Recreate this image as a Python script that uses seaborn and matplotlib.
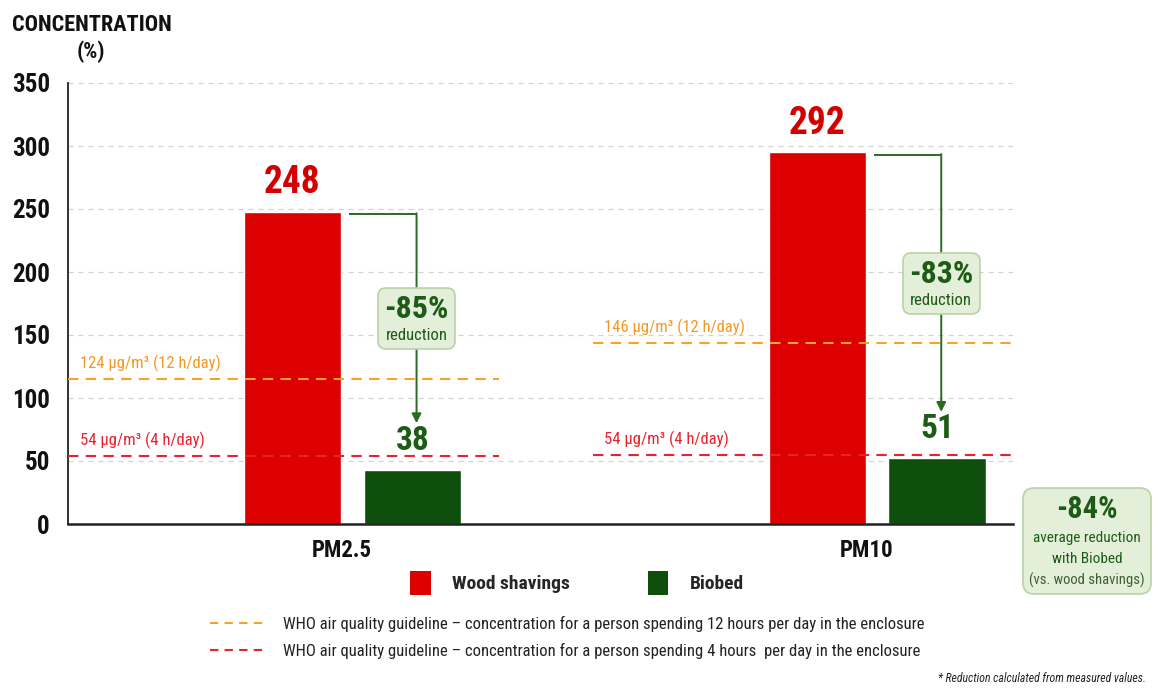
import matplotlib
matplotlib.use('Agg')
import matplotlib.pyplot as plt
from matplotlib import font_manager
from matplotlib.patches import Patch
from matplotlib.lines import Line2D
from matplotlib.offsetbox import AnnotationBbox, TextArea, VPacker
import seaborn as sns
import pandas as pd

# data
pollutants = ['PM2.5', 'PM10']
bedding = ['Wood shavings', 'Biobed']
wood_values = [248, 295]
biobed_values = [43, 52]
wood_labels = ['248', '292']
biobed_labels = ['38', '51']
reductions = ['-85%', '-83%']
who_12h = [115, 144]
who_12h_labels = ['124 µg/m³ (12 h/day)', '146 µg/m³ (12 h/day)']
who_4h = [54, 55]
who_4h_labels = ['54 µg/m³ (4 h/day)', '54 µg/m³ (4 h/day)']
y_ticks = [0, 50, 100, 150, 200, 250, 300, 350]
avg_reduction = '-84%'
avg_lines = ['average reduction', 'with Biobed', '(vs. wood shavings)']
legend_12h = 'WHO air quality guideline – concentration for a person spending 12 hours per day in the enclosure'
legend_4h = 'WHO air quality guideline – concentration for a person spending 4 hours  per day in the enclosure'

RED = '#dc0000'
GREEN = '#0e4f0e'
LABEL_GREEN = '#1d5b16'
ARROW = '#2b6a22'
ORANGE = '#f4a32c'
LINE_RED = '#e8232d'
BOX_FC = '#e3efd9'
BOX_EC = '#b9d2a6'

sns.set_style('white')
names = {f.name for f in font_manager.fontManager.ttflist}
main_font = next((n for n in ['Roboto Condensed', 'Liberation Sans Narrow', 'Roboto'] if n in names), 'DejaVu Sans')
plt.rcParams['font.family'] = [main_font, 'DejaVu Sans']

df = pd.DataFrame({
    'pollutant': pollutants * 2,
    'bedding': [bedding[0]] * 2 + [bedding[1]] * 2,
    'value': wood_values + biobed_values,
})

fig = plt.figure(figsize=(11.58, 6.96), dpi=100)
ax = fig.add_axes([68 / 1158, 1 - 524 / 696, (1013 - 68) / 1158, (524 - 83) / 696])

sns.barplot(data=df, x='pollutant', y='value', hue='bedding', palette=[RED, GREEN],
            width=0.457, gap=0.19, saturation=1, errorbar=None, legend=False, ax=ax, zorder=2)

ax.set_xlim(-0.542, 1.259)
ax.set_ylim(0, 350)
ax.set_yticks(y_ticks)
ax.set_xticks([-0.02, 0.98])
ax.set_xticklabels(pollutants)
ax.set_xlabel('')
ax.set_ylabel('')
ax.tick_params(axis='y', direction='out', length=8, width=1.3, color='#222222', pad=5,
               labelsize=18)
ax.tick_params(axis='x', length=0, pad=11, labelsize=16.5)
for lab in ax.get_xticklabels() + ax.get_yticklabels():
    lab.set_fontweight('bold')
    lab.set_color('#111111')
for s in ['top', 'right']:
    ax.spines[s].set_visible(False)
ax.spines['left'].set_color('#222222')
ax.spines['left'].set_linewidth(1.3)
ax.spines['bottom'].set_color('#222222')
ax.spines['bottom'].set_linewidth(1.8)
ax.yaxis.grid(True, linestyle=(0, (4, 4)), color='#d2d2d2', linewidth=0.9)
ax.set_axisbelow(True)

wood_bars = ax.containers[0]
bio_bars = ax.containers[1]

for i in range(len(pollutants)):
    r = wood_bars[i]
    g = bio_bars[i]
    rc = r.get_x() + r.get_width() / 2
    gc = g.get_x() + g.get_width() / 2

    ax.annotate(wood_labels[i], (rc, r.get_height()), xytext=(0, 21), textcoords='offset points',
                ha='center', va='center', fontsize=27, fontweight='bold', color='#d40000')
    ax.annotate(biobed_labels[i], (gc, g.get_height()), xytext=(0, 21), textcoords='offset points',
                ha='center', va='center', fontsize=24, fontweight='bold', color=LABEL_GREEN)

    # guideline lines
    ax.hlines(who_12h[i], i - 0.542, i + 0.28, colors=ORANGE, linestyles=(0, (5, 3.5)),
              linewidth=1.5, zorder=3)
    ax.hlines(who_4h[i], i - 0.542, i + 0.28, colors=LINE_RED, linestyles=(0, (5, 3.5)),
              linewidth=1.5, zorder=3)
    ax.annotate(who_12h_labels[i], (i - 0.52, who_12h[i]), xytext=(0, 5), textcoords='offset points',
                ha='left', va='bottom', fontsize=12, color='#f09a25')
    ax.annotate(who_4h_labels[i], (i - 0.52, who_4h[i]), xytext=(0, 5), textcoords='offset points',
                ha='left', va='bottom', fontsize=12, color=LINE_RED)

    # elbow arrow
    x0 = r.get_x() + r.get_width() + 0.015
    x1 = gc + 0.008
    y0 = r.get_height() - 2
    y1 = g.get_height() + 37
    ax.plot([x0, x1], [y0, y0], color=ARROW, lw=1.4, solid_capstyle='butt', zorder=4)
    ax.annotate('', xy=(x1, y1), xytext=(x1, y0 + 0.6),
                arrowprops=dict(arrowstyle='-|>', color=ARROW, lw=1.4, mutation_scale=14,
                                shrinkA=0, shrinkB=0), zorder=4)

    box = VPacker(children=[
        TextArea(reductions[i], textprops=dict(fontsize=23, fontweight='bold', color=LABEL_GREEN)),
        TextArea('reduction', textprops=dict(fontsize=12, color=LABEL_GREEN)),
    ], align='center', pad=0, sep=3)
    ab = AnnotationBbox(box, (x1, (y0 + y1) / 2), frameon=True, pad=0.45, zorder=5,
                        bboxprops=dict(boxstyle='round,pad=0.45,rounding_size=0.6',
                                       fc=BOX_FC, ec=BOX_EC, lw=1.2))
    ax.add_artist(ab)

# average reduction box
avg_box = VPacker(children=[
    TextArea(avg_reduction, textprops=dict(fontsize=22, fontweight='bold', color=LABEL_GREEN)),
    TextArea(avg_lines[0], textprops=dict(fontsize=11, color=LABEL_GREEN)),
    TextArea(avg_lines[1], textprops=dict(fontsize=11, color=LABEL_GREEN)),
    TextArea(avg_lines[2], textprops=dict(fontsize=10.5, color='#3d5f33')),
], align='center', pad=0, sep=5)
fig.add_artist(AnnotationBbox(avg_box, (1087 / 1158, 1 - 541 / 696), xycoords='figure fraction',
                              frameon=True, pad=0.45,
                              bboxprops=dict(boxstyle='round,pad=0.45,rounding_size=0.8',
                                             fc=BOX_FC, ec=BOX_EC, lw=1.2)))

# titles
fig.text(12 / 1158, 1 - 25 / 696, 'CONCENTRATION', ha='left', va='center', fontsize=16,
         fontweight='bold', color='#111111')
fig.text(91 / 1158, 1 - 52 / 696, '(%)', ha='center', va='center', fontsize=16,
         fontweight='bold', color='#111111')

# legends
bar_handles = [Patch(facecolor=RED, edgecolor='none', label=bedding[0]),
               Patch(facecolor=GREEN, edgecolor='none', label=bedding[1])]
leg1 = fig.legend(handles=bar_handles, loc='center', bbox_to_anchor=(577 / 1158, 1 - 583 / 696),
                  ncol=2, frameon=False, prop={'weight': 'bold', 'size': 14},
                  handlelength=1.05, handleheight=1.5, handletextpad=1.1, columnspacing=4.0)
line_handles = [Line2D([0], [0], color=ORANGE, lw=1.5, linestyle=(0, (4, 3)), label=legend_12h),
                Line2D([0], [0], color=LINE_RED, lw=1.5, linestyle=(0, (4, 3)), label=legend_4h)]
leg2 = fig.legend(handles=line_handles, loc='upper left', bbox_to_anchor=(195 / 1158, 1 - 601 / 696),
                  frameon=False, prop={'size': 12}, handlelength=3.3, handletextpad=1.1,
                  labelspacing=0.65)
for t in leg2.get_texts():
    t.set_color('#222222')

fig.text(1146 / 1158, 1 - 678 / 696, '* Reduction calculated from measured values.', ha='right',
         va='center', fontsize=8.5, style='italic', color='#222222')

fig.savefig('out.png', dpi=100, facecolor='white')
